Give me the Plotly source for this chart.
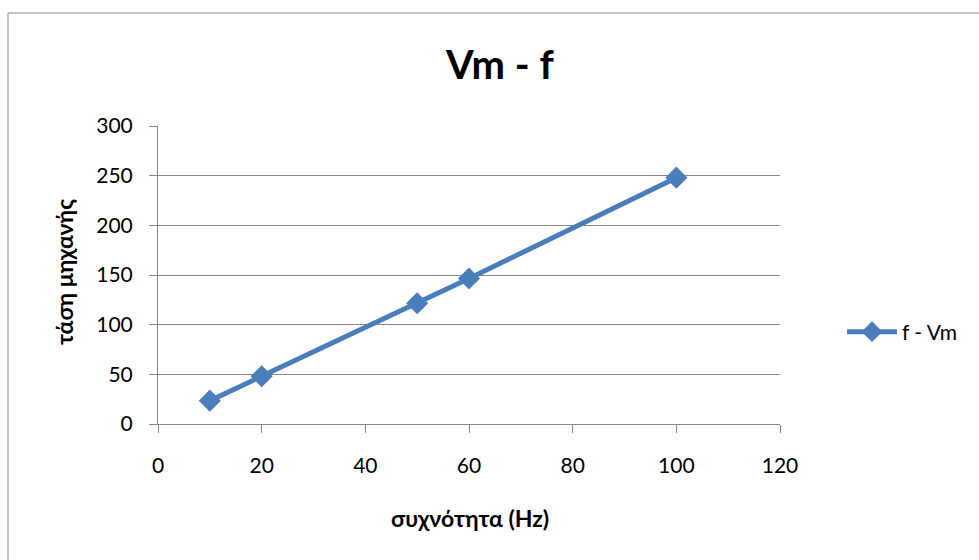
import plotly.graph_objects as go

# Frequency (Hz) and machine voltage readings
freq_hz = [10, 20, 50, 60, 100]
voltage = [23.5, 48, 121.5, 146.5, 248]
x_ticks = [0, 20, 40, 60, 80, 100, 120]
y_ticks = [0, 50, 100, 150, 200, 250, 300]

W, H = 979, 560
L, R, T, B = 158, 780, 126, 424  # plot area in pixels
pw, ph = R - L, B - T

def px_x(p):
    return (p - L) / pw

def px_y(p):
    return (B - p) / ph

FONT = "Lato, Carlito, Calibri, 'Open Sans', sans-serif"
BLUE = "#4A7EBB"
GRID = "#868686"

fig = go.Figure()
fig.add_trace(go.Scatter(
    x=freq_hz, y=voltage, name="f - Vm", mode="lines+markers",
    line=dict(color=BLUE, width=5),
    marker=dict(symbol="diamond", size=17, color=BLUE),
))

fig.update_layout(
    width=W, height=H,
    margin=dict(l=L, r=W - R, t=T, b=H - B),
    paper_bgcolor="white", plot_bgcolor="white",
    font=dict(family=FONT, size=21, color="black"),
    showlegend=True,
    legend=dict(x=px_x(842), y=px_y(332), xanchor="left", yanchor="middle",
                font=dict(size=21), bgcolor="rgba(0,0,0,0)", itemwidth=50),
    xaxis=dict(range=[0, 120], tickvals=x_ticks, showgrid=False,
               showline=True, linecolor=GRID, linewidth=1,
               ticks="outside", ticklen=8, tickcolor=GRID,
               ticklabelstandoff=15, zeroline=False, fixedrange=True),
    yaxis=dict(range=[0, 300], tickvals=y_ticks, showgrid=True,
               gridcolor=GRID, gridwidth=1,
               showline=True, linecolor=GRID, linewidth=1,
               ticks="outside", ticklen=8, tickcolor=GRID,
               ticklabelstandoff=12, zeroline=False, fixedrange=True),
)

# Chart frame
fig.add_shape(type="rect", xref="paper", yref="paper",
              x0=px_x(8), x1=px_x(1010), y0=px_y(600), y1=px_y(13),
              line=dict(color=GRID, width=1), layer="below")

# Title and axis titles
fig.add_annotation(text="<b>Vm - f</b>", xref="paper", yref="paper",
                   x=px_x(500), y=px_y(64), showarrow=False,
                   xanchor="center", yanchor="middle",
                   font=dict(size=40, family=FONT))
fig.add_annotation(text="<b>τάση μηχανής</b>", xref="paper", yref="paper",
                   x=px_x(64), y=px_y(272), showarrow=False, textangle=-90,
                   xanchor="center", yanchor="middle",
                   font=dict(size=23, family=FONT))
fig.add_annotation(text="<b>συχνότητα (Hz)</b>", xref="paper", yref="paper",
                   x=px_x(470), y=px_y(518), showarrow=False,
                   xanchor="center", yanchor="middle",
                   font=dict(size=23, family=FONT))

fig.write_html("out.html")
